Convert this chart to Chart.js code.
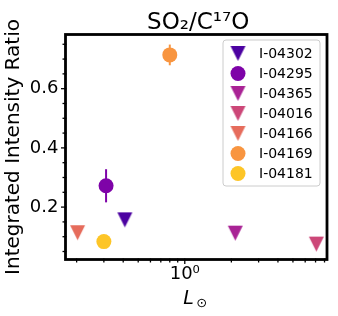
<!DOCTYPE html>
<html lang="en">
<head>
<meta charset="UTF-8">
<title>SO2/C17O</title>
<script src="https://cdn.jsdelivr.net/npm/chart.js"></script>
<style>
  body { margin: 0; background: #fff; }
  canvas { display: block; }
</style>
</head>
<body>
<canvas id="myChart" width="338" height="316"></canvas>
<script>
// sources and values
const names = ['I-04302', 'I-04295', 'I-04365', 'I-04016', 'I-04166', 'I-04169', 'I-04181'];
const lum = [0.41, 0.31, 2.12, 7.08, 0.203, 0.80, 0.30];          // L_sun
const ratio = [0.157, 0.272, 0.112, 0.075, 0.1135, 0.714, 0.0834];
const ratioErr = [0, 0.056, 0, 0, 0, 0.035, 0];
const markers = ['v', 'o', 'v', 'v', 'v', 'o', 'o'];
const colors = ['#4c02a1', '#7e03a8', '#a92395', '#cc4778', '#e66c5c', '#f89540', '#fdc527'];

// axis ticks
const xMajor = [1];
const xMinor = [0.2, 0.3, 0.4, 0.5, 0.6, 0.7, 0.8, 0.9, 2, 3, 4, 5, 6, 7, 8];
const yMajor = [0.2, 0.4, 0.6];
const yMinor = [0.05, 0.1, 0.15, 0.25, 0.3, 0.35, 0.45, 0.5, 0.55, 0.65, 0.7, 0.75];

const titleText = 'SO\u2082/C\u00b9\u2077O';
const FONT = "'DejaVu Sans', sans-serif";

// matplotlib style 'v' marker
function triangleDown(color) {
  var cv = document.createElement('canvas');
  cv.width = 17; cv.height = 17;
  var g = cv.getContext('2d');
  g.fillStyle = color;
  g.beginPath();
  g.moveTo(1, 1); g.lineTo(16, 1); g.lineTo(8.5, 16);
  g.closePath();
  g.fill();
  return cv;
}

function styleFor(i) {
  return markers[i] === 'v' ? triangleDown(colors[i]) : 'circle';
}

const datasets = names.map(function (n, i) {
  return {
    label: n,
    data: [{ x: lum[i], y: ratio[i] }],
    pointStyle: styleFor(i),
    pointRadius: 7.5,
    pointBackgroundColor: colors[i],
    pointBorderColor: colors[i],
    pointBorderWidth: 0
  };
});

const errorBars = {
  id: 'errorBars',
  beforeDatasetsDraw(chart) {
    const c = chart.ctx, sx = chart.scales.x, sy = chart.scales.y;
    c.save();
    c.lineWidth = 2;
    for (let i = 0; i < names.length; i++) {
      if (!ratioErr[i]) continue;
      const px = sx.getPixelForValue(lum[i]);
      c.strokeStyle = colors[i];
      c.beginPath();
      c.moveTo(px, sy.getPixelForValue(ratio[i] - ratioErr[i]));
      c.lineTo(px, sy.getPixelForValue(ratio[i] + ratioErr[i]));
      c.stroke();
    }
    c.restore();
  }
};

const frameTicks = {
  id: 'frameTicks',
  afterDraw(chart) {
    const c = chart.ctx, a = chart.chartArea, sx = chart.scales.x, sy = chart.scales.y;
    c.save();
    c.strokeStyle = '#000';
    function tick(x1, y1, x2, y2) { c.beginPath(); c.moveTo(x1, y1); c.lineTo(x2, y2); c.stroke(); }
    c.lineWidth = 1.3;
    xMajor.forEach(function (v) { const p = sx.getPixelForValue(v); tick(p, a.bottom - 1, p, a.bottom + 4.5); });
    xMinor.forEach(function (v) {
      if (v < sx.min || v > sx.max) return;
      const p = sx.getPixelForValue(v); tick(p, a.bottom - 1, p, a.bottom + 3);
    });
    yMajor.forEach(function (v) { const p = sy.getPixelForValue(v); tick(a.left + 1, p, a.left - 4.5, p); });
    yMinor.forEach(function (v) { const p = sy.getPixelForValue(v); tick(a.left + 1, p, a.left - 3, p); });
    c.lineWidth = 2.8;
    c.strokeRect(a.left, a.top, a.right - a.left, a.bottom - a.top);

    const cx = (a.left + a.right) / 2;
    c.fillStyle = '#000';
    c.textBaseline = 'alphabetic';

    // title, centred over the axes like matplotlib
    c.textAlign = 'center';
    c.font = '23px ' + FONT;
    c.fillText(titleText, cx + 2, a.top - 6);

    // x axis label  L_sun
    c.textAlign = 'left';
    c.font = 'italic 19px ' + FONT;
    c.fillText('L', cx - 13, a.bottom + 44);
    c.font = '13px ' + FONT;
    c.fillText('\u2299', cx, a.bottom + 47.5);
    c.restore();
  }
};

const legendBox = {
  id: 'legendBox',
  afterDraw(chart) {
    const c = chart.ctx, a = chart.chartArea;
    const w = 97, h = 146;
    const left = a.right - 7 - w, top = a.top + 5.5;
    c.save();
    c.fillStyle = 'rgba(255,255,255,0.8)';
    c.strokeStyle = '#cccccc';
    c.lineWidth = 1;
    c.beginPath();
    c.roundRect(left, top, w, h, 3);
    c.fill();
    c.stroke();
    c.font = '14px ' + FONT;
    c.textBaseline = 'middle';
    c.textAlign = 'left';
    chart.data.datasets.forEach(function (ds, i) {
      const y = top + 13.5 + 20 * i;
      const mx = left + 15;
      if (ds.pointStyle === 'circle') {
        c.fillStyle = colors[i];
        c.beginPath();
        c.arc(mx, y, 7.5, 0, Math.PI * 2);
        c.fill();
      } else {
        c.drawImage(ds.pointStyle, mx - 8.5, y - 8.5);
      }
      c.fillStyle = '#000';
      c.fillText(ds.label, left + 36, y + 0.5);
    });
    c.restore();
  }
};

const ctx = document.getElementById('myChart');
const chart = new Chart(ctx, {
  type: 'scatter',
  data: { datasets: datasets },
  options: {
    responsive: false,
    animation: false,
    devicePixelRatio: 1,
    layout: { padding: { left: 0, right: 11, top: 34.5, bottom: 0 } },
    plugins: {
      legend: { display: false },
      tooltip: { enabled: false },
      title: { display: false }
    },
    scales: {
      x: {
        type: 'logarithmic',
        min: 0.1695,
        max: 8.3,
        grid: { display: false, drawTicks: false, tickLength: 0 },
        border: { display: false },
        afterBuildTicks: function (s) { s.ticks = xMajor.map(function (v) { return { value: v }; }); },
        afterFit: function (s) { s.height = 56.5; },
        ticks: {
          autoSkip: false,
          maxRotation: 0,
          padding: 4,
          color: '#000',
          font: { family: FONT, size: 18 },
          callback: function (v) { return v === 1 ? '10\u2070' : ''; }
        }
      },
      y: {
        min: 0.023,
        max: 0.783,
        grid: { display: false, drawTicks: false, tickLength: 0 },
        border: { display: false },
        afterBuildTicks: function (s) { s.ticks = yMajor.map(function (v) { return { value: v }; }); },
        afterFit: function (s) { s.width = 65.5; },
        ticks: {
          padding: 7,
          color: '#000',
          font: { family: FONT, size: 18 },
          callback: function (v) { return v.toFixed(1); }
        },
        title: {
          display: true,
          text: 'Integrated Intensity Ratio',
          color: '#000',
          font: { family: FONT, size: 20, lineHeight: 1.2 },
          padding: { top: 2, bottom: 0 }
        }
      }
    }
  },
  plugins: [errorBars, frameTicks, legendBox]
});
</script>
</body>
</html>
